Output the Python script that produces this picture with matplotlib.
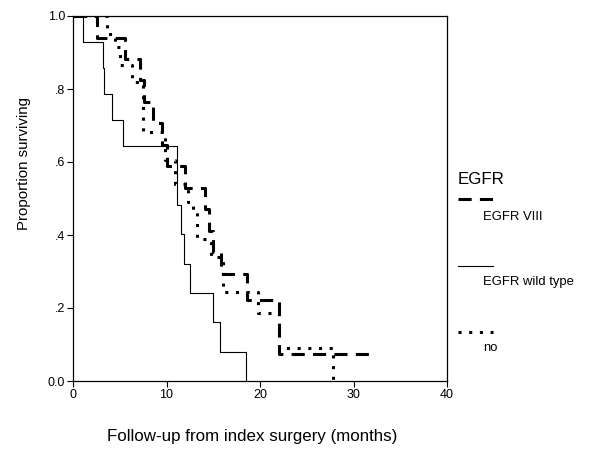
import matplotlib
matplotlib.use("Agg")
import matplotlib.pyplot as plt
from matplotlib.lines import Line2D

plt.rcParams['font.family'] = ['Liberation Sans', 'DejaVu Sans']

# Kaplan-Meier step data (time in months, proportion surviving)
times_viii = [0, 2.55, 5.55, 7.2, 7.6, 8.55, 9.5, 10.05, 12.0, 14.1, 14.55, 15.0, 15.8, 18.6, 22.0, 32.1]
surv_viii = [1.0, 0.941, 0.882, 0.824, 0.765, 0.706, 0.647, 0.588, 0.529, 0.471, 0.412, 0.353, 0.294, 0.221, 0.074, 0.074]

times_wt = [0, 1.04, 3.24, 3.35, 4.14, 5.38, 11.09, 11.52, 11.9, 12.5, 15.0, 15.7, 18.5]
surv_wt = [1.0, 0.929, 0.857, 0.786, 0.714, 0.643, 0.482, 0.402, 0.321, 0.241, 0.161, 0.080, 0.0]

times_no = [0, 3.6, 4.5, 5.0, 6.3, 7.5, 9.8, 10.9, 12.3, 12.8, 13.3, 14.8, 16.0, 19.8, 22.0, 27.8]
surv_no = [1.0, 0.95, 0.915, 0.866, 0.82, 0.683, 0.605, 0.54, 0.49, 0.463, 0.39, 0.34, 0.245, 0.185, 0.09, 0.0]

x_ticks = [0, 10, 20, 30, 40]
y_ticks = [0.0, 0.2, 0.4, 0.6, 0.8, 1.0]
y_ticklabels = ["0.0", ".2", ".4", ".6", ".8", "1.0"]
legend_title = "EGFR"
legend_labels = ["EGFR VIII", "EGFR wild type", "no"]

W, H = 600, 462
fig = plt.figure(figsize=(W / 100, H / 100), dpi=100)
ax = fig.add_axes([73 / W, (H - 381) / H, 374 / W, 365 / H])

dash_style = (0, (4.3, 2.7))
dot_style = (0, (1, 2.5))
lw_thick = 2.2

ax.step(times_viii, surv_viii, where='post', color='black', lw=lw_thick,
        linestyle=dash_style, dash_capstyle='butt', solid_joinstyle='miter')
ax.step(times_wt, surv_wt, where='post', color='black', lw=0.8)
ax.step(times_no, surv_no, where='post', color='black', lw=lw_thick,
        linestyle=dot_style, dash_capstyle='butt')

ax.set_xlim(0, 40)
ax.set_ylim(0, 1.0)
ax.set_xticks(x_ticks)
ax.set_xticklabels([str(t) for t in x_ticks])
ax.set_yticks(y_ticks)
ax.set_yticklabels(y_ticklabels)
ax.tick_params(direction='out', length=4, width=0.8, labelsize=9, pad=1.5, colors='black')
for s in ax.spines.values():
    s.set_linewidth(0.9)
    s.set_color('black')

fig.text(252 / W, 1 - 437 / H, "Follow-up from index surgery (months)",
         ha='center', va='center', fontsize=12.2)
fig.text(24 / W, 1 - 164 / H, "Proportion surviving", rotation=90,
         ha='center', va='center', fontsize=10.8)

# Legend drawn manually (SPSS style)
fig.text(458 / W, 1 - 180 / H, legend_title, ha='left', va='center', fontsize=12.2)
hy = [199, 266, 332]
ty = [217, 282, 348]
styles = [dict(lw=lw_thick, linestyle=dash_style, dash_capstyle='butt'),
          dict(lw=0.8, linestyle='-'),
          dict(lw=lw_thick, linestyle=dot_style, dash_capstyle='butt')]
for lab, yh, yt, st in zip(legend_labels, hy, ty, styles):
    fig.add_artist(Line2D([458 / W, 493 / W], [1 - yh / H, 1 - yh / H],
                          color='black', transform=fig.transFigure, **st))
    fig.text(483 / W, 1 - yt / H, lab, ha='left', va='center', fontsize=9.4)

fig.savefig("out.png", dpi=100)
